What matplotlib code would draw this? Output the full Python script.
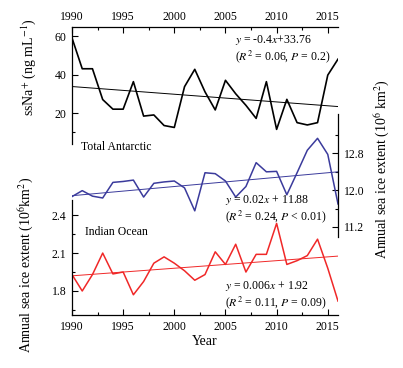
import matplotlib
matplotlib.use("Agg")
import matplotlib.pyplot as plt
from matplotlib.ticker import MultipleLocator, FixedLocator
import numpy as np

plt.rcParams['font.family'] = ['Liberation Serif', 'DejaVu Serif']
plt.rcParams['mathtext.fontset'] = 'stix'

years = np.arange(1990, 2017)

# ssNa+ concentration (ng/mL)
ssna = [59, 43, 43, 27, 22, 22, 36.3, 18.4, 19, 13.5, 12.5, 33.7, 42.7, 31,
        21.6, 37, 30, 24, 17.2, 36.3, 11.5, 27.1, 15, 13.8, 15, 39.7, 48]

# total Antarctic annual sea ice extent (10^6 km2)
ant = [11.86, 11.99, 11.87, 11.83, 12.17, 12.19, 12.22, 11.85, 12.15, 12.18,
       12.2, 12.05, 11.55, 12.38, 12.36, 12.2, 11.85, 12.08, 12.6, 12.4,
       12.41, 11.9, 12.38, 12.87, 13.13, 12.78, 11.7]

# Indian Ocean annual sea ice extent (10^6 km2)
ind = [1.93, 1.80, 1.93, 2.10, 1.935, 1.95, 1.77, 1.875, 2.02, 2.07, 2.02,
       1.96, 1.885, 1.93, 2.11, 2.01, 2.17, 1.95, 2.09, 2.09, 2.335, 2.01,
       2.04, 2.08, 2.21, 1.98, 1.72]

# trend lines (slope, intercept), x = year - 1990
fit_ssna = (-0.4, 33.76)
fit_ant = (0.02, 11.88)
fit_ind = (0.006, 1.92)

blue = '#3b3b9c'
red = '#f02828'

fig = plt.figure(figsize=(4.03, 3.68), dpi=100)
L, W = 72 / 403, 266 / 403

def frac(top_px, bot_px):
    return [L, 1 - bot_px / 368, W, (bot_px - top_px) / 368]

ax1 = fig.add_axes(frac(27, 144))
ax2 = fig.add_axes(frac(114, 237))
ax3 = fig.add_axes(frac(200, 315))
for ax in (ax1, ax2, ax3):
    ax.patch.set_alpha(0)
    ax.set_xlim(1990, 2016)
    for s in ax.spines.values():
        s.set_visible(False)
        s.set_linewidth(0.9)
    ax.tick_params(which='both', direction='in', labelsize=8.5, width=0.8)
    ax.tick_params(which='major', length=4)
    ax.tick_params(which='minor', length=2.5)

x = years - 1990

# top: ssNa+
ax1.plot(years, ssna, color='black', lw=1.2)
ax1.plot(years, fit_ssna[0] * x + fit_ssna[1], color='black', lw=0.7)
ax1.set_ylim(3.9, 64.7)
ax1.spines['left'].set_visible(True)
ax1.spines['top'].set_visible(True)
ax1.xaxis.tick_top()
ax1.xaxis.set_major_locator(MultipleLocator(5))
ax1.xaxis.set_minor_locator(MultipleLocator(2.5))
ax1.yaxis.set_major_locator(FixedLocator([20, 40, 60]))
ax1.yaxis.set_minor_locator(FixedLocator([10]))
ax1.tick_params(axis='x', which='both', top=True, bottom=False, pad=3)
ax1.tick_params(axis='y', pad=4)
ax1.set_ylabel('ssNa$^{+}$ (ng mL$^{-1}$)', fontsize=10)
ax1.yaxis.set_label_coords(-0.128, 0.66)

# middle: total Antarctic (right axis)
ax2.plot(years, ant, color=blue, lw=1.1)
ax2.plot(years, fit_ant[0] * x + fit_ant[1], color=blue, lw=0.7)
ax2.set_ylim(10.98, 13.66)
ax2.spines['right'].set_visible(True)
ax2.yaxis.tick_right()
ax2.yaxis.set_label_position('right')
ax2.set_xticks([])
ax2.yaxis.set_major_locator(FixedLocator([11.2, 12.0, 12.8]))
ax2.yaxis.set_minor_locator(FixedLocator([11.6, 12.4, 13.2]))
ax2.tick_params(axis='y', which='both', left=False, right=True, pad=4)
ax2.set_ylabel('Annual sea ice extent (10$^{6}$ km$^{2}$)', fontsize=10,
               rotation=90)
ax2.yaxis.set_label_coords(1.13, 0.553)

# bottom: Indian Ocean
ax3.plot(years, ind, color=red, lw=1.1)
ax3.plot(years, fit_ind[0] * x + fit_ind[1], color=red, lw=0.7)
ax3.set_ylim(1.61, 2.52)
ax3.spines['left'].set_visible(True)
ax3.spines['bottom'].set_visible(True)
ax3.xaxis.set_major_locator(MultipleLocator(5))
ax3.xaxis.set_minor_locator(MultipleLocator(2.5))
ax3.yaxis.set_major_locator(FixedLocator([1.8, 2.1, 2.4]))
ax3.yaxis.set_minor_locator(FixedLocator([1.65, 1.95, 2.25]))
ax3.tick_params(axis='x', pad=4)
ax3.tick_params(axis='y', pad=4)
ax3.set_xlabel('Year', fontsize=10, labelpad=2)
ax3.set_ylabel('Annual sea ice extent (10$^{6}$km$^{2}$)', fontsize=10)
ax3.yaxis.set_label_coords(-0.135, 0.435)

# annotations in pixel coordinates of the figure
def ftext(px, py, s, **kw):
    fig.text(px / 403, 1 - py / 368, s, fontsize=8.5, va='center', ha='left',
             linespacing=1.1, **kw)

ftext(235, 49, '$y$ = -0.4$x$+33.76\n($R^2$ = 0.06, $P$ = 0.2)')
ftext(81, 147, 'Total Antarctic')
ftext(225, 209, '$y$ = 0.02$x$ + 11.88\n($R^2$ = 0.24, $P$ < 0.01)')
ftext(85, 232.5, 'Indian Ocean')
ftext(225, 295, '$y$ = 0.006$x$ + 1.92\n($R^2$ = 0.11, $P$ = 0.09)')

fig.savefig('out.png', dpi=100)
